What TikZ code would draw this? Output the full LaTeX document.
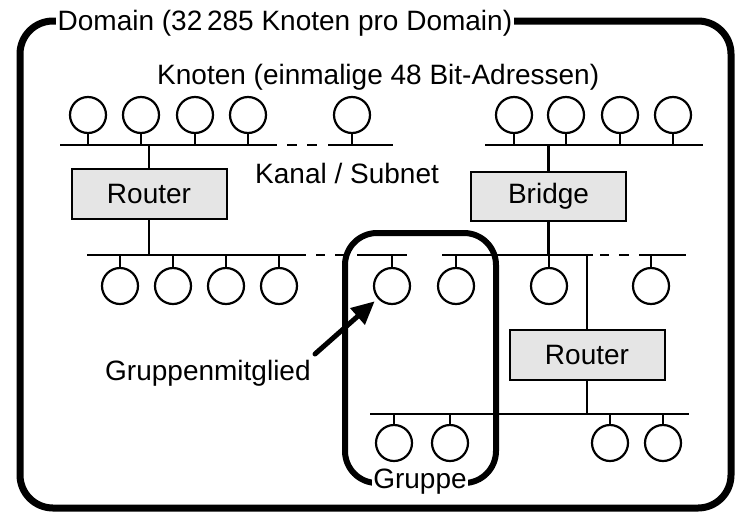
\documentclass[tikz,border=0pt]{standalone}
\usepackage{fontspec}
\setmainfont{Liberation Sans}
\usetikzlibrary{arrows.meta}
\begin{document}
\begin{tikzpicture}[x=1pt,y=-1pt,
  font=\fontsize{28}{32}\selectfont,
  host/.style={circle,draw,line width=2.2pt,minimum size=36pt,inner sep=0pt},
  wire/.style={line width=2.4pt},
  device/.style={draw,fill=black!10,line width=2pt,minimum width=155pt,minimum height=50pt,inner sep=0pt},
  frame/.style={line width=7pt,rounded corners=33pt},
  groupframe/.style={line width=6pt,rounded corners=32pt},
  pointer/.style={line width=5pt,line cap=round,-{Triangle[length=23pt,width=21pt]},shorten >=4pt},
  label/.style={anchor=base west,inner sep=0pt}]
\useasboundingbox (0,0) rectangle (736,512);

% domain frame
\draw[frame] (20,21) rectangle (731,508);
\node[anchor=base west,fill=white,inner xsep=1.5pt,inner ysep=3pt] (dom) at (56,30) {Domain (32\,285 Knoten pro Domain)};

% bus coordinates
\coordinate (busA) at (0,145);
\coordinate (busM) at (0,255);
\coordinate (busL) at (0,414);

% upper left channel
\draw[wire] (60,145) coordinate (aL) -- (277,145) coordinate (aR1);
\draw[wire] (287,145) -- (297,145);
\draw[wire] (307,145) -- (317,145);
\draw[wire] (328,145) coordinate (aL2) -- (393,145) coordinate (aR);
\foreach \i/\x in {1/88,2/141,3/195,4/248,5/352}{
  \node[host] (a\i) at (\x,115) {};
  \draw[wire] (a\i.south) -- (a\i.south |- busA);
}

% upper right channel
\draw[wire] (485,145) coordinate (bL) -- (703,145) coordinate (bR);
\foreach \i/\x in {1/514,2/566,3/620,4/673}{
  \node[host] (b\i) at (\x,115) {};
  \draw[wire] (b\i.south) -- (b\i.south |- busA);
}

% middle channel
\draw[wire] (87,255) coordinate (mL) -- (306,255);
\draw[wire] (316,255) -- (325,255);
\draw[wire] (335,255) -- (345,255);
\draw[wire] (357,255) -- (407,255);
\draw[wire] (442,255) -- (593,255);
\draw[wire] (600,255) -- (609,255);
\draw[wire] (619,255) -- (629,255);
\draw[wire] (639,255) -- (686,255) coordinate (mR);
\foreach \n/\x in {c1/120,c2/173,c3/226,c4/279,g1/392,g2/456,d1/549,d2/651}{
  \node[host] (\n) at (\x,286) {};
  \draw[wire] (\n.north) -- (\n.north |- busM);
}

% lower channel
\draw[wire] (370,414) coordinate (lL) -- (689,414) coordinate (lR);
\foreach \i/\x in {1/394,2/450,3/610,4/663}{
  \node[host] (e\i) at (\x,443) {};
  \draw[wire] (e\i.north) -- (e\i.north |- busL);
}

% routers and bridge
\node[device] (r1) at (149,193.5) {Router};
\node[device,minimum height=49pt] (br) at (548.5,196.5) {Bridge};
\node[device] (r2) at (587,355) {Router};
\draw[wire] (r1.north) -- (r1.north |- busA);
\draw[wire] (r1.south) -- (r1.south |- busM);
\draw[wire] (br.north) -- (br.north |- busA);
\draw[wire] (br.south) -- (br.south |- busM);
\draw[wire] (r2.north) -- (r2.north |- busM);
\draw[wire] (r2.south) -- (r2.south |- busL);

% labels
\node[label] (knoten) at (157,84) {Knoten (einmalige 48 Bit-Adressen)};
\node[label] (kanal) at (255,183) {Kanal / Subnet};
\node[label] (member) at (105,380) {Gruppenmitglied};

% multicast group
\draw[groupframe] (345,233) rectangle (496,483);
\node[anchor=base,fill=white,inner xsep=1.5pt,inner ysep=3pt] (grp) at (420,488) {Gruppe};

% pointer to a group member
\coordinate (tail) at (315,354);
\draw[pointer] (tail) -- (g1);
\end{tikzpicture}
\end{document}
